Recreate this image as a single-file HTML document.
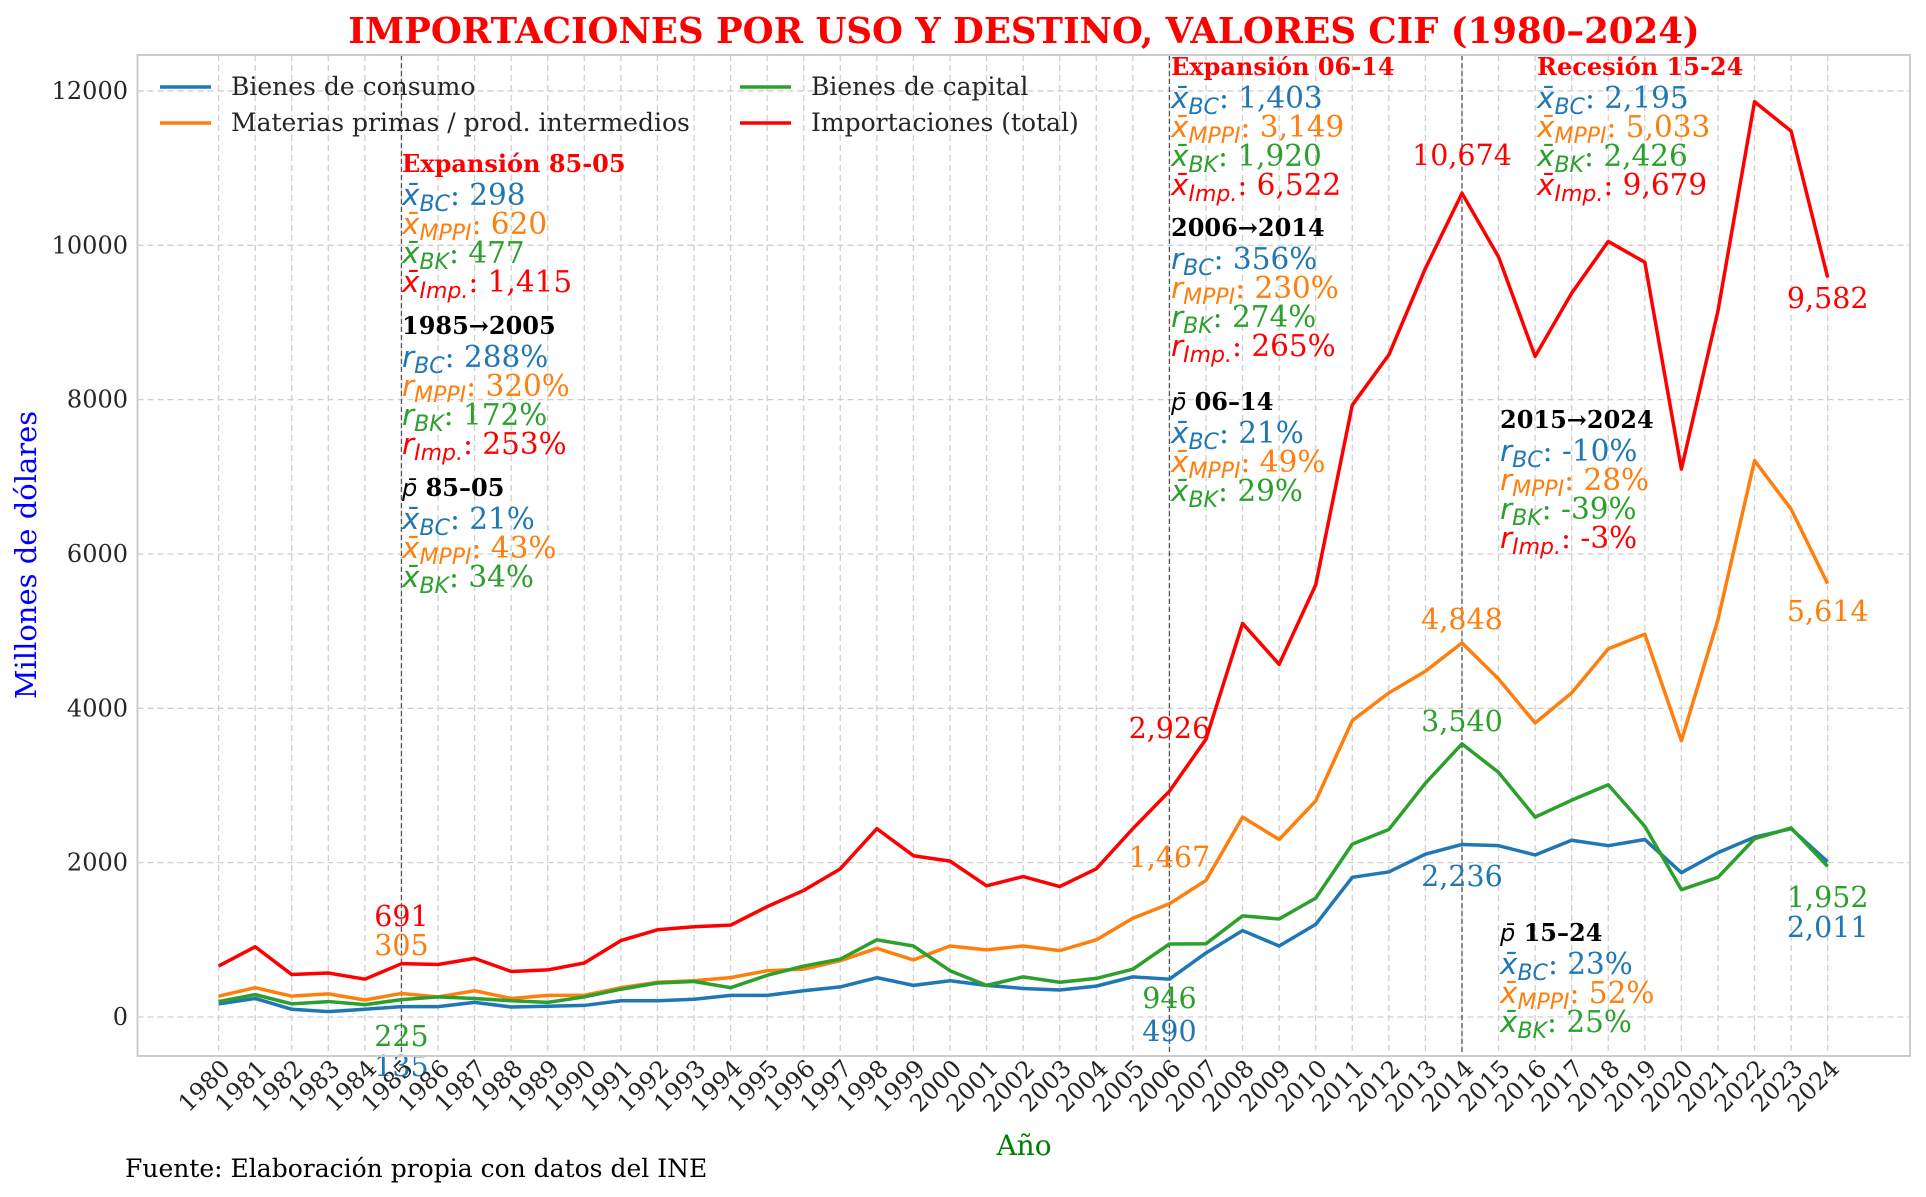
<!DOCTYPE html>
<html><head><meta charset="utf-8"><style>
html,body{margin:0;padding:0;background:#fff}
svg{display:block}
text{font-family:"DejaVu Serif","Liberation Serif",serif}
.m{font-family:"DejaVu Sans",sans-serif;font-style:italic}
</style></head><body>
<svg id="chart" width="1926" height="1197" viewBox="0 0 1926 1197" xmlns="http://www.w3.org/2000/svg">
<rect width="1926" height="1197" fill="#fff"/>
<g id="grid"></g><g id="vlines"></g><g id="series"></g><g id="ann"></g><g id="axes"></g>
</svg>
<script>
const years = [];for(let y=1980;y<=2024;y++)years.push(y);
const bienesConsumo = [170,240,100,70,100,135,135,190,130,140,150,210,210,230,280,280,340,390,510,410,470,410,370,350,400,520,490,830,1120,920,1200,1810,1880,2110,2236,2220,2100,2290,2220,2300,1870,2130,2330,2440,2011];
const materiasPrimas = [270,380,270,300,220,305,260,340,240,280,280,380,450,470,510,600,620,730,890,740,920,870,920,860,1000,1280,1467,1770,2590,2300,2800,3840,4200,4480,4848,4380,3810,4200,4770,4960,3580,5150,7210,6580,5614];
const bienesCapital = [200,290,170,200,160,225,260,240,210,190,260,360,440,460,380,540,660,750,1000,920,600,410,520,450,500,620,946,950,1310,1270,1540,2240,2430,3030,3540,3170,2590,2810,3010,2470,1650,1810,2310,2450,1952];
const importTotal = [660,910,550,570,490,691,680,760,590,610,700,990,1130,1170,1190,1430,1640,1920,2440,2090,2020,1700,1820,1690,1920,2440,2926,3600,5100,4570,5600,7930,8580,9700,10674,9850,8560,9380,10050,9780,7100,9150,11860,11480,9582];
const yTicks = [0,2000,4000,6000,8000,10000,12000];
const markYears = [1985,2006,2014];

const NS="http://www.w3.org/2000/svg";
const L=137.5,R=1910,T=55,B=1056;
const X=y=>218.6+(y-1980)*36.57;
const Y=v=>1017-v*0.07717;
function mk(tag,attrs,parent,txt){const e=document.createElementNS(NS,tag);for(const k in attrs)e.setAttribute(k,attrs[k]);if(txt!==undefined)e.textContent=txt;parent.appendChild(e);return e;}
const grid=document.getElementById('grid'),axes=document.getElementById('axes'),ser=document.getElementById('series'),ann=document.getElementById('ann'),vl=document.getElementById('vlines');

years.forEach(y=>{
  const g=mk('line',{x1:X(y),x2:X(y),y1:T,y2:B,stroke:'#cfcfcf','stroke-width':1.3,'stroke-dasharray':'6,4'},grid);
  
  
  const t=mk('text',{x:X(y)+13,y:B+14,'font-size':24,fill:'#262626','text-anchor':'end',transform:`rotate(-45 ${X(y)+13} ${B+14})`},axes,String(y));
  
  
});
yTicks.forEach(v=>{
  const g=mk('line',{x1:L,x2:R,y1:Y(v),y2:Y(v),stroke:'#cfcfcf','stroke-width':1.3,'stroke-dasharray':'6,4'},grid);
  
  
  const t=mk('text',{x:128,y:Y(v)+8,'font-size':24,fill:'#262626','text-anchor':'end'},axes,String(v));
  
  
});
const frame=mk('rect',{x:L,y:T,width:R-L,height:B-T,fill:'none',stroke:'#cccccc','stroke-width':2},axes);



markYears.forEach(y=>{
  const l=mk('line',{x1:X(y),x2:X(y),y1:T,y2:B,stroke:'#555','stroke-width':1.3,'stroke-dasharray':'5,3'},vl);
  
  
});

const seriesDefs=[[bienesConsumo,'#1f77b4','bienes-consumo-line'],[materiasPrimas,'#ff7f0e','materias-primas-line'],[bienesCapital,'#2ca02c','bienes-capital-line'],[importTotal,'#ff0000','importaciones-total-line']];
seriesDefs.forEach(([d,c,n])=>{
  const p=mk('polyline',{points:d.map((v,i)=>X(years[i])+','+Y(v)).join(' '),fill:'none',stroke:c,'stroke-width':3.5,'stroke-linejoin':'round'},ser);
  
  
});

function fmt(v){return v.toLocaleString('en-US');}
const labelYears=[1985,2006,2014,2024];
const labelOffsets={1985:{t:916,m:945,c:1036,b:1066},2006:{t:728,m:857,c:998,b:1031},2014:{t:155,m:619,c:721,b:876},2024:{t:298,m:611,c:897,b:927}};
labelYears.forEach(y=>{
  const i=y-1980,o=labelOffsets[y];
  [[importTotal,'#ff0000','t'],[materiasPrimas,'#ff7f0e','m'],[bienesCapital,'#2ca02c','c'],[bienesConsumo,'#1f77b4','b']].forEach(([d,c,k])=>{
    const t=mk('text',{x:X(y),y:o[k]+10,'font-size':28.5,fill:c,'text-anchor':'middle'},ann,fmt(d[i]));
    
    
  });
});

const C={b:'#1f77b4',o:'#ff7f0e',g:'#2ca02c',r:'#ff0000',k:'#000'};
function mathLine(x,y,color,sym,sub,val,name){
  const t=mk('text',{x:x,y:y,'font-size':29.5,fill:color},ann);
  
  
  mk('tspan',{class:'m'},t,sym);
  mk('tspan',{class:'m','font-size':22,dy:6},t,sub);
  mk('tspan',{dy:-6},t,': '+val);
}
function header(x,y,color,txt,name,pbar){
  const t=mk('text',{x:x,y:y,'font-size':24,'font-weight':'bold',fill:color},ann);
  
  
  if(pbar){mk('tspan',{class:'m','font-weight':'normal'},t,'p̄');mk('tspan',{},t,' '+txt);}else t.textContent=txt;
}
function block(x,y0,title,tcol,rows,sym,pbar){
  header(x,y0,tcol,title,'annotation-header',pbar);
  rows.forEach((r,i)=>mathLine(x,y0+33+i*29,r[0],sym,r[1],r[2],'annotation-line'));
}
block(402,172,'Expansión 85-05',C.r,[[C.b,'BC','298'],[C.o,'MPPI','620'],[C.g,'BK','477'],[C.r,'Imp.','1,415']],'x̄');
block(402,334,'1985→2005',C.k,[[C.b,'BC','288%'],[C.o,'MPPI','320%'],[C.g,'BK','172%'],[C.r,'Imp.','253%']],'r');
block(402,496,'85–05',C.k,[[C.b,'BC','21%'],[C.o,'MPPI','43%'],[C.g,'BK','34%']],'x̄',true);
block(1171,75,'Expansión 06-14',C.r,[[C.b,'BC','1,403'],[C.o,'MPPI','3,149'],[C.g,'BK','1,920'],[C.r,'Imp.','6,522']],'x̄');
block(1171,236,'2006→2014',C.k,[[C.b,'BC','356%'],[C.o,'MPPI','230%'],[C.g,'BK','274%'],[C.r,'Imp.','265%']],'r');
block(1171,410,'06–14',C.k,[[C.b,'BC','21%'],[C.o,'MPPI','49%'],[C.g,'BK','29%']],'x̄',true);
block(1537,75,'Recesión 15-24',C.r,[[C.b,'BC','2,195'],[C.o,'MPPI','5,033'],[C.g,'BK','2,426'],[C.r,'Imp.','9,679']],'x̄');
block(1500,428,'2015→2024',C.k,[[C.b,'BC','-10%'],[C.o,'MPPI','28%'],[C.g,'BK','-39%'],[C.r,'Imp.','-3%']],'r');
block(1500,941,'15–24',C.k,[[C.b,'BC','23%'],[C.o,'MPPI','52%'],[C.g,'BK','25%']],'x̄',true);

const legendItems=[['Bienes de consumo','#1f77b4',160,87],['Materias primas / prod. intermedios','#ff7f0e',160,123],['Bienes de capital','#2ca02c',740,87],['Importaciones (total)','#ff0000',740,123]];
legendItems.forEach(([n,c,x,y])=>{
  const g=mk('g',{},axes);
  
  
  mk('line',{x1:x,x2:x+51,y1:y,y2:y,stroke:c,'stroke-width':3.5},g);
  mk('text',{x:x+71,y:y+8,'font-size':25,fill:'#262626'},g,n);
});

const tt=mk('text',{x:1024,y:43,'font-size':35.5,'font-weight':'bold',fill:'#ff0000','text-anchor':'middle'},axes,'IMPORTACIONES POR USO Y DESTINO, VALORES CIF (1980–2024)');


const xt=mk('text',{x:1024,y:1155,'font-size':28,fill:'#008000','text-anchor':'middle'},axes,'Año');


const yt=mk('text',{x:36,y:555,'font-size':29,fill:'#0000ff','text-anchor':'middle',transform:'rotate(-90 36 555)'},axes,'Millones de dólares');


const src=mk('text',{x:125,y:1177,'font-size':25,fill:'#000'},axes,'Fuente: Elaboración propia con datos del INE');


</script>
</body></html>
